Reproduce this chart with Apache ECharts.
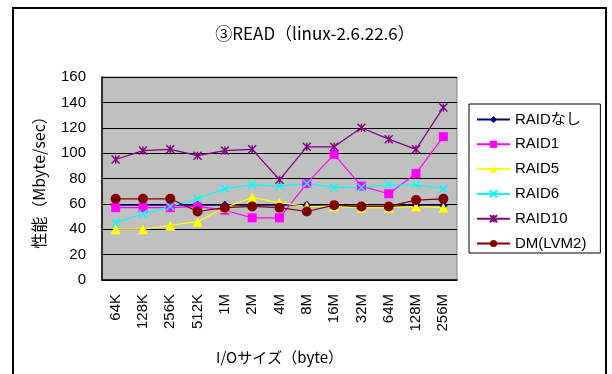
<!DOCTYPE html>
<html>
<head>
<meta charset="utf-8">
<script src="https://cdn.jsdelivr.net/npm/echarts@6/dist/echarts.min.js"></script>
<style>
  html, body { margin: 0; padding: 0; background: #fff; }
  #chart { width: 612px; height: 374px; }
</style>
</head>
<body>
<div id="chart"></div>
<script>
// I/O size categories and read throughput (Mbyte/sec) per configuration
const categories = ['64K', '128K', '256K', '512K', '1M', '2M', '4M', '8M', '16M', '32M', '64M', '128M', '256M'];
const raidNone = [59, 59, 59, 59, 59, 59, 59, 59, 58, 58, 58, 59, 59];
const raid1    = [57, 57, 57, 58, 55, 49, 49, 76, 99, 74, 68, 84, 113];
const raid5    = [40, 40, 43, 46, 57, 65, 61, 58, 58, 57, 57, 58, 57];
const raid6    = [45, 52, 58, 64, 72, 75, 74, 76, 73, 73, 75, 75, 72];
const raid10   = [95, 102, 103, 98, 102, 103, 79, 105, 105, 120, 111, 103, 136];
const dmLvm2   = [64, 64, 64, 54, 57, 58, 57, 54, 59, 58, 58, 63, 64];
const yTicks = { min: 0, max: 160, interval: 20 };

const crossPath = 'path://M0,0L10,10M10,0L0,10';
const starPath = 'path://M0,0L10,10M10,0L0,10M5,0L5,10';

function lineSeries(name, data, color, symbol, size, stroke) {
  return {
    name: name,
    type: 'line',
    data: data,
    symbol: symbol,
    symbolSize: size,
    lineStyle: { color: color, width: 1.2 },
    itemStyle: stroke
      ? { color: 'rgba(0,0,0,0)', borderColor: color, borderWidth: 1.4 }
      : { color: color, borderWidth: 0 },
    emphasis: { disabled: true },
    animation: false
  };
}

const chart = echarts.init(document.getElementById('chart'), null, { renderer: 'canvas' });
chart.setOption({
  backgroundColor: '#ffffff',
  title: {
    text: '③READ（linux-2.6.22.6）',
    left: 310,
    textAlign: 'center',
    top: 20,
    textStyle: { fontFamily: 'Noto Sans CJK JP', fontSize: 17, fontWeight: 'normal', color: '#000' }
  },
  graphic: [{
    type: 'rect',
    shape: { x: 13, y: 8, width: 593, height: 400 },
    style: { fill: 'none', stroke: '#000', lineWidth: 2 },
    silent: true
  }],
  legend: {
    orient: 'vertical',
    left: 469,
    top: 104,
    itemWidth: 33,
    itemHeight: 9,
    itemGap: 9.8,
    padding: [8, 14, 2, 7],
    borderColor: '#000',
    borderWidth: 1,
    backgroundColor: '#fff',
    textStyle: { fontFamily: 'Liberation Sans, Noto Sans CJK JP', fontSize: 15, color: '#000' },
    data: ['RAIDなし', 'RAID1', 'RAID5', 'RAID6', 'RAID10', 'DM(LVM2)']
  },
  grid: {
    left: 102, top: 77, right: 155, bottom: 94,
    show: true,
    backgroundColor: '#C0C0C0',
    borderColor: '#808080',
    borderWidth: 1
  },
  xAxis: {
    type: 'category',
    data: categories,
    boundaryGap: true,
    name: 'I/Oサイズ（byte）',
    nameLocation: 'middle',
    nameGap: 70,
    nameTextStyle: { fontFamily: 'Noto Sans CJK JP', fontSize: 15, color: '#000' },
    axisLine: { lineStyle: { color: '#000', width: 1.5 } },
    axisTick: { inside: true, length: 5, lineStyle: { color: '#000' } },
    axisLabel: {
      rotate: 90,
      margin: 14,
      interval: 0,
      fontFamily: 'Liberation Sans',
      fontSize: 15,
      color: '#000'
    },
    splitLine: { show: false }
  },
  yAxis: {
    type: 'value',
    min: yTicks.min,
    max: yTicks.max,
    interval: yTicks.interval,
    name: '性能（Mbyte/sec）',
    nameLocation: 'middle',
    nameGap: 55,
    nameTextStyle: { fontFamily: 'Noto Sans CJK JP', fontSize: 16, color: '#000' },
    axisLine: { show: true, lineStyle: { color: '#000', width: 1.5 } },
    axisTick: { show: true, inside: true, length: 6, lineStyle: { color: '#000' } },
    axisLabel: { fontFamily: 'Liberation Sans', fontSize: 15, color: '#000', margin: 16 },
    splitLine: { show: true, lineStyle: { color: '#000', width: 1 } }
  },
  series: [
    lineSeries('RAIDなし', raidNone, '#000080', 'diamond', 9, false),
    lineSeries('RAID1', raid1, '#FF00FF', 'rect', 9, false),
    lineSeries('RAID5', raid5, '#FFFF00', 'triangle', 10, false),
    lineSeries('RAID6', raid6, '#00FFFF', crossPath, 8, true),
    lineSeries('RAID10', raid10, '#800080', starPath, 8, true),
    lineSeries('DM(LVM2)', dmLvm2, '#800000', 'circle', 10, false)
  ]
});
</script>
</body>
</html>
